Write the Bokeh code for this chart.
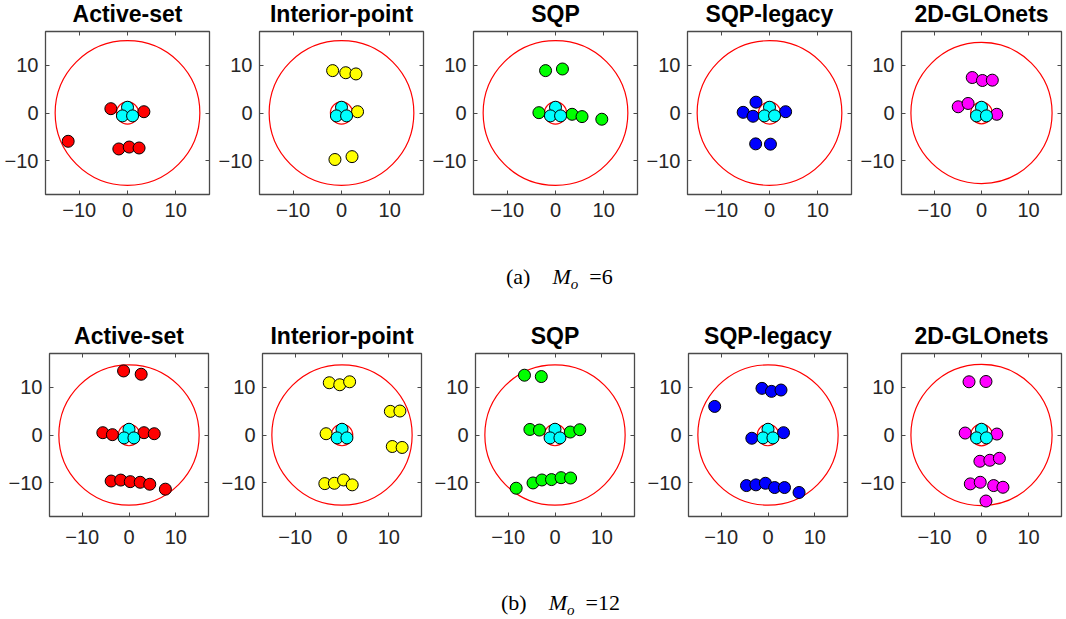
from bokeh.plotting import figure
from bokeh.layouts import row, column
from bokeh.models import LinearAxis, Div, FixedTicker, Range1d, CustomLabelingPolicy
from bokeh.embed import file_html
from bokeh.resources import INLINE

methods = ["Active-set", "Interior-point", "SQP", "SQP-legacy", "2D-GLOnets"]
colors = ["#FF0000", "#FFFF00", "#00FF00", "#0000FF", "#FF00FF"]
ticks = [-10, 0, 10]
tick_labels = ["\u221210", "0", "10"]
outer_r = 15
inner_r = 2.3
cyan_x = [0.0, -1.05, 1.05]
cyan_y = [1.2, -0.6, -0.6]

# (a) M_o = 6
as6_x = [-3.45, 3.4, -12.3, -1.8, 0.35, 2.4]
as6_y = [0.9, 0.27, -5.9, -7.5, -7.1, -7.3]
ip6_x = [-1.84, 0.88, 3.0, 3.33, -1.36, 2.18]
ip6_y = [8.84, 8.4, 8.15, 0.27, -9.7, -9.1]
sqp6_x = [-2.06, 1.44, -3.44, 3.44, 5.5, 9.6]
sqp6_y = [8.84, 9.18, 0.07, -0.27, -0.75, -1.3]
sql6_x = [-2.8, -5.46, -3.41, 3.34, -2.87, 0.2]
sql6_y = [2.26, 0.14, -0.68, 0.27, -6.44, -6.5]
glo6_x = [-1.97, 0.2, 2.3, -4.95, -2.85, 3.25]
glo6_y = [7.4, 6.78, 6.85, 1.3, 1.99, -0.27]

# (b) M_o = 12
as12_x = [-1.16, 2.6, -5.6, -3.55, 3.2, 5.4, -3.82, -1.77, 0.27, 2.39, 4.44, 7.78]
as12_y = [13.36, 12.67, 0.48, 0.07, 0.48, 0.27, -9.6, -9.4, -9.73, -9.86, -10.27, -11.3]
ip12_x = [-2.72, -0.48, 1.63, 10.34, 12.38, -3.4, 10.75, 12.86, -3.67, -1.63, 0.34, 2.18]
ip12_y = [10.9, 10.48, 11.1, 4.93, 5.0, 0.27, -2.4, -2.6, -10.14, -10.07, -9.38, -10.4]
sqp12_x = [-6.53, -2.93, -5.37, -3.33, 3.27, 5.3, -8.3, -4.7, -2.8, -0.75, 1.3, 3.33]
sqp12_y = [12.47, 12.19, 1.16, 1.03, 0.62, 1.1, -11.1, -10.0, -9.38, -9.3, -8.9, -8.97]
sql12_x = [-11.4, -1.29, 0.75, 2.78, -3.46, 3.32, -4.6, -2.58, -0.54, 1.42, 3.53, 6.64]
sql12_y = [5.96, 9.73, 9.1, 9.38, -0.68, 0.48, -10.55, -10.4, -10.07, -10.96, -10.96, -11.99]
glo12_x = [-2.65, 0.95, -3.47, 3.27, -0.34, 1.77, 3.8, -2.38, -0.27, 2.58, 4.56, 0.95]
glo12_y = [11.1, 11.16, 0.41, 0.2, -5.48, -5.27, -4.86, -10.2, -9.86, -10.55, -10.9, -13.77]

row_a = [(as6_x, as6_y), (ip6_x, ip6_y), (sqp6_x, sqp6_y), (sql6_x, sql6_y), (glo6_x, glo6_y)]
row_b = [(as12_x, as12_y), (ip12_x, ip12_y), (sqp12_x, sqp12_y), (sql12_x, sql12_y), (glo12_x, glo12_y)]

AX = "#262626"
FRAME = "#4a4a4a"
no_labels = CustomLabelingPolicy(code="for (const i of indices) { indices.unset(i) }\nreturn indices")


def panel(title, xs, ys, color, width, height, bl, br, bt, bb, xstand):
    p = figure(width=width, height=height, output_backend="svg", toolbar_location=None,
               x_range=Range1d(-17, 17), y_range=Range1d(-17, 17),
               min_border_left=bl, min_border_right=br, min_border_top=bt, min_border_bottom=bb)
    p.grid.visible = False
    p.outline_line_color = FRAME
    p.outline_line_width = 1.3
    p.background_fill_color = "white"
    p.border_fill_color = "white"
    for ax in (p.xaxis[0], p.yaxis[0]):
        ax.ticker = FixedTicker(ticks=ticks)
        ax.major_label_overrides = dict(zip(ticks, tick_labels))
        ax.axis_line_color = None
        ax.major_tick_in = 4
        ax.major_tick_out = 0
        ax.major_tick_line_color = FRAME
        ax.minor_tick_line_color = None
        ax.major_label_text_font = "Liberation Sans"
        ax.major_label_text_font_size = "20px"
        ax.major_label_text_color = AX
    p.xaxis[0].major_label_standoff = xstand
    p.yaxis[0].major_label_standoff = 7
    # top axis carries the panel title as its label
    top = LinearAxis(ticker=FixedTicker(ticks=ticks), axis_line_color=None,
                     major_tick_in=4, major_tick_out=0, major_tick_line_color=FRAME,
                     minor_tick_line_color=None, major_label_text_font_size="1px",
                     major_label_standoff=0, major_label_policy=no_labels,
                     axis_label=title, axis_label_standoff=1,
                     axis_label_text_font="Liberation Sans", axis_label_text_font_size="23px",
                     axis_label_text_font_style="bold", axis_label_text_color="black")
    p.add_layout(top, "above")
    right = LinearAxis(ticker=FixedTicker(ticks=ticks), axis_line_color=None,
                       major_tick_in=4, major_tick_out=0, major_tick_line_color=FRAME,
                       minor_tick_line_color=None, major_label_text_font_size="1px",
                       major_label_standoff=0, major_label_policy=no_labels)
    p.add_layout(right, "right")
    p.circle(x=[0], y=[0], radius=outer_r, fill_color=None, line_color="#FF0000", line_width=1.2)
    p.circle(x=[0], y=[0], radius=inner_r, fill_color=None, line_color="#FF0000", line_width=1.2)
    p.scatter(xs, ys, size=12, fill_color=color, line_color="black", line_width=1)
    p.scatter(cyan_x, cyan_y, size=12, fill_color="#00FFFF", line_color="black", line_width=1)
    return p


figs_a = []
for i, (m, c, (xs, ys)) in enumerate(zip(methods, colors, row_a)):
    last = i == 4
    figs_a.append(panel(m, xs, ys, c, 210 if last else 214, 240, 45, 0 if last else 4, 30, 43, 8))

figs_b = []
for i, (m, c, (xs, ys)) in enumerate(zip(methods, colors, row_b)):
    last = i == 4
    figs_b.append(panel(m, xs, ys, c, 214 if last else 213, 240, 49, 0, 32, 43, 13))

cap_style = ("font-family:'Liberation Serif',serif;font-size:22px;color:#000;white-space:nowrap;"
             "position:relative;left:{left}px;top:{top}px;")
sp = "&nbsp;" * 4
cap_a = Div(text='<div style="' + cap_style.format(left=506, top=21) + '">(a)' + sp +
            '<i>M<sub style="font-size:15px">o</sub></i>&nbsp;&nbsp;=6</div>',
            width=1066, height=80, margin=0)
cap_b = Div(text='<div style="' + cap_style.format(left=501, top=27) + '">(b)' + sp +
            '<i>M<sub style="font-size:15px">o</sub></i>&nbsp;&nbsp;=12</div>',
            width=1066, height=59, margin=0)

row1 = row(*figs_a, margin=(-3, 0, 3, 0))
row2 = row(*figs_b, margin=(-1, 0, 1, 0))
layout = column(row1, cap_a, row2, cap_b)
open("out.html", "w").write(file_html(layout, INLINE))
